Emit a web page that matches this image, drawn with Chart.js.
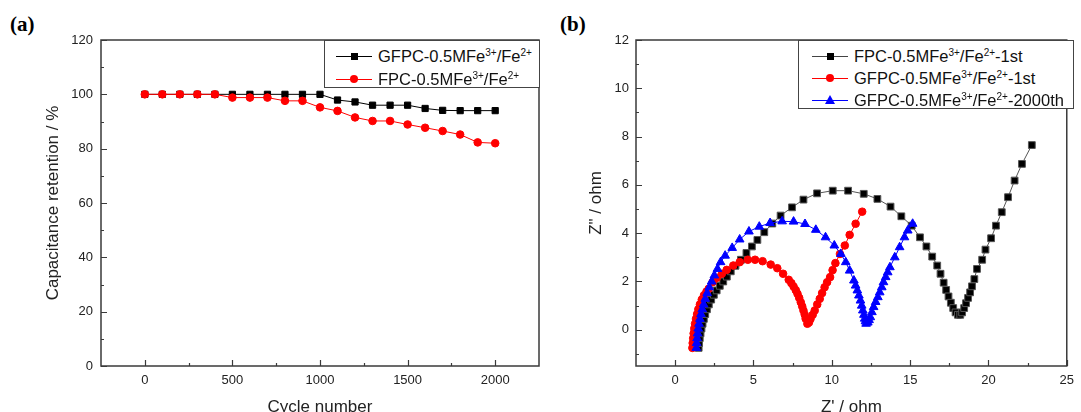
<!DOCTYPE html>
<html>
<head>
<meta charset="utf-8">
<script src="https://cdn.jsdelivr.net/npm/chart.js@4/dist/chart.umd.min.js"></script>
<style>
  body { margin: 0; width: 1081px; height: 412px; overflow: hidden; background: #fff; position: relative;
         font-family: Arial, "Liberation Sans", sans-serif; color: #111; }
  .panel { position: absolute; top: 0; }
  .tag { position: absolute; top: 12px; font: bold 21px "Liberation Serif", "Times New Roman", serif; color: #000; }
  .legend { position: absolute; border: 1px solid #444; background: #fff; font-size: 16.5px; box-sizing: border-box; }
  .row { position: absolute; height: 20px; display: flex; align-items: center; white-space: nowrap; }
  .sample { position: relative; width: 36px; height: 20px; }
  .sample .ln { position: absolute; left: 0; right: 0; top: 10px; height: 1px; }
  .sample .mk { position: absolute; }
  .sq { width: 7px; height: 7px; left: 15px; top: 7px; }
  .ci { width: 8px; height: 8px; left: 14px; top: 6px; border-radius: 50%; }
  .tri { width: 0; height: 0; left: 13px; top: 5px; border-left: 5px solid transparent;
         border-right: 5px solid transparent; border-bottom: 9px solid #0000ff; }
  sup { font-size: 10px; vertical-align: 6px; line-height: 0; }
</style>
</head>
<body>
<div class="tag" style="left:10px">(a)</div>
<div class="tag" style="left:560px">(b)</div>

<canvas id="retention" class="panel" style="left:0"></canvas>
<canvas id="nyquist" class="panel" style="left:545px"></canvas>

<div class="legend" style="left:324px; top:40px; width:216px; height:48px">
  <div class="row" style="left:11px; top:5px">
    <div class="sample"><div class="ln" style="background:#000"></div><div class="mk sq" style="background:#000"></div></div>
    <span style="margin-left:6px">GFPC-0.5MFe<sup>3+</sup>/Fe<sup>2+</sup></span>
  </div>
  <div class="row" style="left:11px; top:28px">
    <div class="sample"><div class="ln" style="background:#ff0000"></div><div class="mk ci" style="background:#ff0000"></div></div>
    <span style="margin-left:6px">FPC-0.5MFe<sup>3+</sup>/Fe<sup>2+</sup></span>
  </div>
</div>

<div class="legend" style="left:798px; top:40px; width:276px; height:69px">
  <div class="row" style="left:13px; top:5px">
    <div class="sample"><div class="ln" style="background:#444"></div><div class="mk sq" style="background:#000"></div></div>
    <span style="margin-left:6px">FPC-0.5MFe<sup>3+</sup>/Fe<sup>2+</sup>-1st</span>
  </div>
  <div class="row" style="left:13px; top:27px">
    <div class="sample"><div class="ln" style="background:#ff0000"></div><div class="mk ci" style="background:#ff0000"></div></div>
    <span style="margin-left:6px">GFPC-0.5MFe<sup>3+</sup>/Fe<sup>2+</sup>-1st</span>
  </div>
  <div class="row" style="left:13px; top:49px">
    <div class="sample"><div class="ln" style="background:#0000ff"></div><div class="mk tri"></div></div>
    <span style="margin-left:6px">GFPC-0.5MFe<sup>3+</sup>/Fe<sup>2+</sup>-2000th</span>
  </div>
</div>

<script>
// (a) cycling stability
const cycles = [0, 100, 200, 300, 400, 500, 600, 700, 800, 900, 1000,
                1100, 1200, 1300, 1400, 1500, 1600, 1700, 1800, 1900, 2000];
const gfpcRetention = [100, 100, 100, 100, 100, 100, 100, 100, 100, 100, 100,
                       97.9, 97.2, 96, 96, 96, 94.8, 94.1, 94, 94, 94];
const fpcRetention = [100, 100, 100, 100, 100, 98.8, 98.8, 98.8, 97.6, 97.6, 95.2,
                      93.9, 91.5, 90.2, 90.2, 88.9, 87.7, 86.5, 85.2, 82.3, 82];
const cycleTicks = [0, 500, 1000, 1500, 2000];
const retentionTicks = [0, 20, 40, 60, 80, 100, 120];

// (b) Nyquist plots: Z' and Z'' in ohm
const fpcRe = [1.50, 1.53, 1.57, 1.62, 1.68, 1.75, 1.83, 1.92, 2.03, 2.15, 2.30, 2.47, 2.65, 2.85,
  3.07, 3.30, 3.55, 3.85, 4.20, 4.55, 4.90, 5.25, 5.69, 6.20, 6.73, 7.46, 8.19, 9.06, 10.06,
  11.04, 12.04, 12.91, 13.75, 14.44, 15.10, 15.63, 16.04, 16.41, 16.73, 16.94, 17.14, 17.30,
  17.45, 17.60, 17.75, 17.90, 18.05, 18.20, 18.32, 18.45, 18.57, 18.70, 18.83, 18.95, 19.10,
  19.27, 19.60, 19.81, 20.17, 20.48, 20.85, 21.25, 21.67, 22.14, 22.77];
const fpcIm = [-0.75, -0.55, -0.35, -0.15, 0.05, 0.25, 0.45, 0.65, 0.85, 1.05, 1.25, 1.45, 1.63, 1.82,
  2.00, 2.20, 2.42, 2.65, 2.90, 3.18, 3.45, 3.72, 4.04, 4.40, 4.73, 5.07, 5.39, 5.65, 5.76,
  5.76, 5.63, 5.42, 5.10, 4.70, 4.31, 3.83, 3.45, 3.03, 2.66, 2.32, 1.95, 1.65,
  1.38, 1.12, 0.90, 0.72, 0.62, 0.62, 0.72, 0.90, 1.10, 1.32, 1.55, 1.80, 2.10,
  2.52, 2.90, 3.32, 3.79, 4.31, 4.87, 5.49, 6.18, 6.87, 7.65];

const gfpcRe = [1.10, 1.12, 1.15, 1.18, 1.22, 1.27, 1.33, 1.40, 1.48, 1.58, 1.70, 1.84, 2.00, 2.14,
  2.39, 2.66, 2.98, 3.29, 3.71, 4.12, 4.64, 5.10, 5.58, 6.10, 6.52, 6.89, 7.25, 7.42, 7.56,
  7.70, 7.81, 7.92, 8.02, 8.11, 8.19, 8.27, 8.33, 8.44, 8.54, 8.64, 8.78, 8.91, 9.07, 9.23,
  9.38, 9.54, 9.70, 9.89, 10.05, 10.23, 10.52, 10.83, 11.14, 11.52, 11.94];
const gfpcIm = [-0.75, -0.55, -0.35, -0.15, 0.05, 0.25, 0.45, 0.65, 0.85, 1.05, 1.25, 1.43, 1.58, 1.70,
  1.97, 2.15, 2.32, 2.48, 2.66, 2.80, 2.90, 2.90, 2.84, 2.70, 2.55, 2.32, 2.07, 1.93, 1.79,
  1.64, 1.49, 1.32, 1.14, 0.97, 0.80, 0.63, 0.46, 0.25, 0.30, 0.45, 0.62, 0.80, 1.05, 1.28,
  1.52, 1.76, 1.97, 2.18, 2.47, 2.76, 3.14, 3.49, 3.93, 4.39, 4.89];

const gfpc2000Re = [1.35, 1.37, 1.40, 1.43, 1.47, 1.52, 1.58, 1.65, 1.73, 1.82, 1.92, 2.04, 2.18, 2.33,
  2.50, 2.70, 2.90, 3.19, 3.64, 4.12, 4.71, 5.37, 6.06, 6.83, 7.56, 8.29, 8.98, 9.60, 10.16,
  10.58, 10.89, 11.14, 11.41, 11.52, 11.63, 11.73, 11.83, 11.91, 11.98, 12.05, 12.10, 12.15,
  12.19, 12.30, 12.38, 12.46, 12.56, 12.67, 12.80, 12.94, 13.06, 13.19, 13.30, 13.44, 13.57,
  13.71, 14.02, 14.33, 14.64, 14.85, 15.16];
const gfpc2000Im = [-0.75, -0.55, -0.35, -0.15, 0.05, 0.25, 0.45, 0.65, 0.85, 1.05, 1.28, 1.52, 1.76, 2.00,
  2.25, 2.52, 2.80, 3.07, 3.39, 3.74, 4.07, 4.27, 4.42, 4.49, 4.48, 4.38, 4.14, 3.83, 3.49,
  3.14, 2.80, 2.45, 2.04, 1.83, 1.63, 1.42, 1.21, 1.00, 0.80, 0.62, 0.46, 0.35,
  0.25, 0.30, 0.40, 0.52, 0.73, 0.94, 1.15, 1.35, 1.55, 1.76, 1.97, 2.18, 2.38,
  2.59, 3.00, 3.42, 3.83, 4.11, 4.39];
const zReTicks = [0, 5, 10, 15, 20, 25];
const zImTicks = [0, 2, 4, 6, 8, 10, 12];

const toPoints = (xs, ys) => xs.map((x, i) => ({ x: x, y: ys[i] }));

const TICK_FONT = { family: 'Arial, "Liberation Sans", sans-serif', size: 13 };
const TITLE_FONT = { family: 'Arial, "Liberation Sans", sans-serif', size: 17 };
const FRAME = '#3a3a3a';

// frame around the plot area, with major/minor ticks pointing inward
const framePlugin = {
  id: 'frame',
  afterDatasetsDraw(chart) {
    const { ctx, chartArea: a, scales } = chart;
    ctx.save();
    ctx.strokeStyle = FRAME;
    ctx.lineWidth = 1.2;
    const xs = scales.x, ys = scales.y;
    const xMinor = chart.options.plugins.frame.xMinor;
    const yMinor = chart.options.plugins.frame.yMinor;
    ctx.beginPath();
    xs.ticks.forEach(t => {
      const p = Math.round(xs.getPixelForValue(t.value)) + 0.5;
      ctx.moveTo(p, a.bottom); ctx.lineTo(p, a.bottom - 6);
    });
    xMinor.forEach(v => {
      const p = Math.round(xs.getPixelForValue(v)) + 0.5;
      ctx.moveTo(p, a.bottom); ctx.lineTo(p, a.bottom - 3);
    });
    ys.ticks.forEach(t => {
      const p = Math.round(ys.getPixelForValue(t.value)) + 0.5;
      ctx.moveTo(a.left, p); ctx.lineTo(a.left + 6, p);
    });
    yMinor.forEach(v => {
      const p = Math.round(ys.getPixelForValue(v)) + 0.5;
      ctx.moveTo(a.left, p); ctx.lineTo(a.left + 3, p);
    });
    ctx.stroke();
    ctx.lineWidth = 1.5;
    ctx.strokeRect(a.left, a.top, a.right - a.left, a.bottom - a.top);
    ctx.restore();
  }
};

function fixedTicks(values) {
  return scale => { scale.ticks = values.map(v => ({ value: v })); };
}

function axis(opts) {
  return {
    type: 'linear',
    min: opts.min,
    max: opts.max,
    afterBuildTicks: fixedTicks(opts.ticks),
    afterFit: scale => {
      if (opts.width) scale.width = opts.width;
      if (opts.height) scale.height = opts.height;
    },
    border: { display: false },
    grid: { display: false, drawTicks: false },
    ticks: {
      color: '#222', font: TICK_FONT, padding: opts.pad, autoSkip: false, maxRotation: 0,
      callback: v => String(v)
    },
    title: { display: true, text: opts.title, color: '#222', font: TITLE_FONT, padding: opts.titlePad }
  };
}

function setupCanvas(id, w, h) {
  const c = document.getElementById(id);
  c.width = w; c.height = h;
  c.style.width = w + 'px'; c.style.height = h + 'px';
  return c;
}

new Chart(setupCanvas('retention', 545, 418), {
  type: 'line',
  data: {
    datasets: [
      {
        label: 'GFPC-0.5MFe3+/Fe2+',
        data: toPoints(cycles, gfpcRetention),
        borderColor: '#000', backgroundColor: '#000', borderWidth: 1,
        pointStyle: 'rect', pointRadius: 4.4, order: 1
      },
      {
        label: 'FPC-0.5MFe3+/Fe2+',
        data: toPoints(cycles, fpcRetention),
        borderColor: '#ff0000', backgroundColor: '#ff0000', borderWidth: 1,
        pointStyle: 'circle', pointRadius: 3.8, order: 0
      }
    ]
  },
  options: {
    responsive: false,
    animation: false,
    layout: { padding: { top: 40, right: 6, left: 0, bottom: 0 } },
    plugins: {
      legend: { display: false },
      tooltip: { enabled: false },
      frame: { xMinor: [250, 750, 1250, 1750], yMinor: [10, 30, 50, 70, 90, 110] }
    },
    elements: { point: { borderWidth: 0 }, line: { tension: 0 } },
    scales: {
      x: axis({ min: -250, max: 2250, ticks: cycleTicks, height: 52, pad: 7,
                title: 'Cycle number', titlePad: { bottom: 0 } }),
      y: axis({ min: 0, max: 120, ticks: retentionTicks, width: 101, pad: 8,
                title: 'Capacitance retention / %', titlePad: { top: 43 } })
    }
  },
  plugins: [framePlugin]
});

new Chart(setupCanvas('nyquist', 536, 418), {
  type: 'line',
  data: {
    datasets: [
      {
        label: 'FPC-0.5MFe3+/Fe2+-1st',
        data: toPoints(fpcRe, fpcIm),
        borderColor: '#555', backgroundColor: '#000', borderWidth: 1,
        pointStyle: 'rect', pointRadius: 4.8, order: 2
      },
      {
        label: 'GFPC-0.5MFe3+/Fe2+-1st',
        data: toPoints(gfpcRe, gfpcIm),
        borderColor: '#ff0000', backgroundColor: '#ff0000', borderWidth: 1,
        pointStyle: 'circle', pointRadius: 3.8, order: 1
      },
      {
        label: 'GFPC-0.5MFe3+/Fe2+-2000th',
        data: toPoints(gfpc2000Re, gfpc2000Im),
        borderColor: '#0000ff', backgroundColor: '#0000ff', borderWidth: 1,
        pointStyle: 'triangle', pointRadius: 5, order: 0
      }
    ]
  },
  options: {
    responsive: false,
    animation: false,
    layout: { padding: { top: 40, right: 8, left: 0, bottom: 0 } },
    plugins: {
      legend: { display: false },
      tooltip: { enabled: false },
      frame: { xMinor: [2.5, 7.5, 12.5, 17.5, 22.5], yMinor: [-1, 1, 3, 5, 7, 9, 11] }
    },
    elements: { point: { borderWidth: 0 }, line: { tension: 0 } },
    scales: {
      x: axis({ min: -2.5, max: 25, ticks: zReTicks, height: 52, pad: 7,
                title: "Z' / ohm", titlePad: { bottom: 0 } }),
      y: axis({ min: -1.5, max: 12, ticks: zImTicks, width: 91, pad: 7,
                title: 'Z" / ohm', titlePad: { top: 41 } })
    }
  },
  plugins: [framePlugin]
});
</script>
</body>
</html>
